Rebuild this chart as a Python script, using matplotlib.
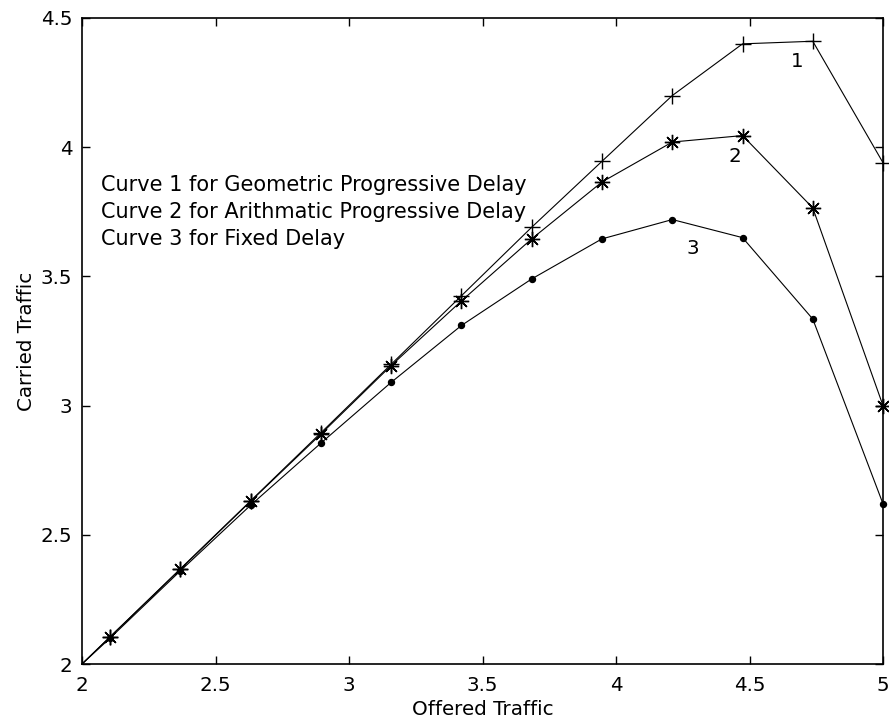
import matplotlib
matplotlib.use("Agg")
import matplotlib.pyplot as plt

# offered traffic points (Erlang) and carried traffic for each delay scheme
offered = [2.0, 2.105, 2.368, 2.632, 2.895, 3.158, 3.421, 3.684, 3.947, 4.211, 4.474, 4.737, 5.0]
geometric = [2.0, 2.105, 2.368, 2.632, 2.895, 3.16, 3.425, 3.69, 3.945, 4.20, 4.40, 4.41, 3.94]
arithmetic = [2.0, 2.105, 2.366, 2.63, 2.89, 3.155, 3.405, 3.645, 3.865, 4.02, 4.045, 3.765, 3.0]
fixed = [2.0, 2.10, 2.36, 2.615, 2.855, 3.09, 3.31, 3.49, 3.645, 3.72, 3.65, 3.335, 2.62]

note_lines = ["Curve 1 for Geometric Progressive Delay",
              "Curve 2 for Arithmatic Progressive Delay",
              "Curve 3 for Fixed Delay"]

plt.rcParams['font.family'] = ['DejaVu Sans']
fs = 14.3

fig = plt.figure(figsize=(8.89, 7.23), dpi=100)
ax = fig.add_axes([82/889, 1 - 664/723, 801/889, 646/723])

mk = slice(1, None)
ax.plot(offered, geometric, color='black', lw=0.8, marker='+', ms=12, mew=1.0,
        markevery=mk, clip_on=False)
ax.plot(offered, arithmetic, color='black', lw=0.8, marker=(8, 2, 0), ms=11, mew=1.0,
        markevery=mk, clip_on=False)
ax.plot(offered, fixed, color='black', lw=0.8, marker='o', ms=4.3,
        markevery=mk, clip_on=False)

# curve numbers
ax.text(4.677, 4.331, "1", fontsize=fs, ha='center', va='center')
ax.text(4.446, 3.963, "2", fontsize=fs, ha='center', va='center')
ax.text(4.287, 3.609, "3", fontsize=fs, ha='center', va='center')

ax.text(2.07, 3.75, "\n".join(note_lines), fontsize=15, ha='left', va='center',
        linespacing=1.42)

ax.set_xlim(2, 5)
ax.set_ylim(2, 4.5)
ax.set_xticks([2, 2.5, 3, 3.5, 4, 4.5, 5])
ax.set_xticklabels(["2", "2.5", "3", "3.5", "4", "4.5", "5"])
ax.set_yticks([2, 2.5, 3, 3.5, 4, 4.5])
ax.set_yticklabels(["2", "2.5", "3", "3.5", "4", "4.5"])
ax.tick_params(direction='in', top=True, right=True, length=6, width=1.0,
               labelsize=fs)
ax.tick_params(axis='x', pad=8.5)
ax.tick_params(axis='y', pad=7)
for sp in ax.spines.values():
    sp.set_linewidth(1.2)

ax.set_xlabel("Offered Traffic", fontsize=fs, labelpad=4)
ax.set_ylabel("Carried Traffic", fontsize=fs, labelpad=3)

fig.savefig("out.png", dpi=100)
